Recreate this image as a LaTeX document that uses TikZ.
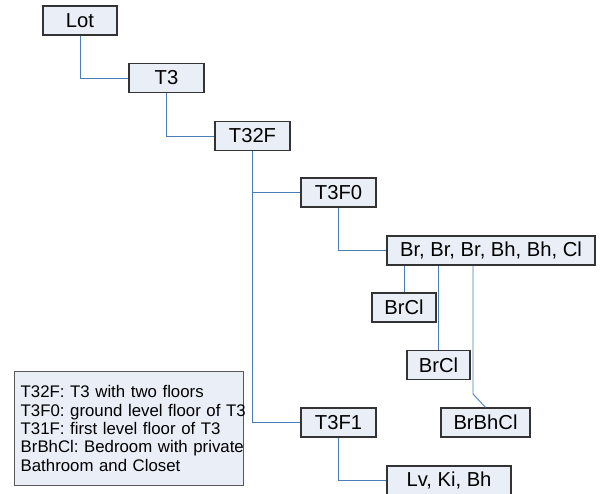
\documentclass[tikz,border=0pt]{standalone}
\usepackage{fontspec}
\setmainfont{Liberation Sans}
\usetikzlibrary{calc}
\frenchspacing
\definecolor{boxfill}{RGB}{233,238,247}
\definecolor{linkc}{RGB}{74,126,187}
\tikzstyle{box} = [
  draw=black!80,
  fill=boxfill,
  line width=1.2pt,
  minimum height=29pt,
  inner sep=0pt,
  font=\fontsize{20.2}{22}\selectfont,
]
\tikzstyle{link} = [draw=linkc, line width=0.9pt]
\tikzstyle{legend} = [
  draw=black!65,
  fill=boxfill,
  line width=1pt,
  minimum width=229pt,
  minimum height=113pt,
]
\tikzstyle{legendtext} = [
  anchor=west,
  text width=228pt,
  inner sep=0pt,
  align=left,
  font=\fontsize{16.8}{18.4}\selectfont,
]

\begin{document}
\begin{tikzpicture}[x=1pt, y=-1pt]
      \useasboundingbox (0,0) rectangle (600,494);

      % Boxes
      \node[box, minimum width=74pt] (lot) at (80,20.5) {Lot};
      \node[box, minimum width=75pt] (t3) at (166.5,78) {T3};
      \node[box, minimum width=75pt] (t32f) at (252.5,136) {T32F};
      \node[box, minimum width=75pt] (t3f0) at (338.5,192.5) {T3F0};
      \node[box, minimum width=208pt] (rooms) at (491,250.5) {Br, Br, Br, Bh, Bh, Cl};
      \node[box, minimum width=64pt] (brcla) at (404,307.5) {BrCl};
      \node[box, minimum width=63pt] (brclb) at (438.5,365) {BrCl};
      \node[box, minimum width=89pt] (brbhcl) at (485.5,422.5) {BrBhCl};
      \node[box, minimum width=75pt] (t3f1) at (338.5,422.5) {T3F1};
      \node[box, minimum width=124pt] (living) at (449,480.5) {Lv, Ki, Bh};
      \coordinate (bend) at (473,394);

      % Links
      \draw[link] (lot.south) |- (t3.west);
      \draw[link] (t3.south) |- (t32f.west);
      \draw[link] (t32f.south) |- (t3f0.west);
      \draw[link] (t32f.south) |- (t3f1.west);
      \draw[link] (t3f0.south) |- (rooms.west);
      \draw[link] (t3f1.south) |- (living.west);
      \draw[link] (rooms.south -| brcla.north) -- (brcla.north);
      \draw[link] (rooms.south -| brclb.north) -- (brclb.north);
      \draw[link] (rooms.south -| bend) -- (bend) -- (brbhcl.north);

      % Legend
      \node[legend] (key) at (128.5,428.5) {};
      \node[legendtext] (keytext) at ([xshift=7pt]key.west) {T32F: T3 with two floors\\
        T3F0: ground level floor of T3\\
        T31F: first level floor of T3\\
        BrBhCl: Bedroom with private\\
        Bathroom and Closet};
\end{tikzpicture}
\end{document}
